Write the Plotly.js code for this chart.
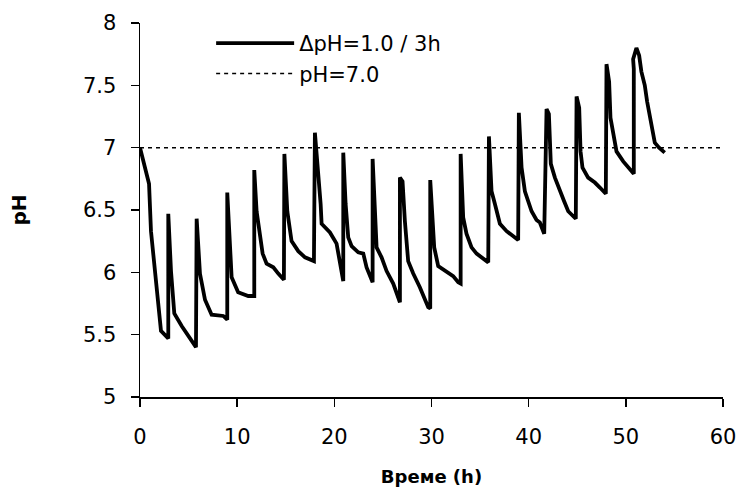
<!DOCTYPE html>
<html>
<head>
<meta charset="utf-8">
<script src="https://cdn.plot.ly/plotly-3.0.1.min.js"></script>
<style>html,body{margin:0;padding:0;background:#fff;}#chart{width:740px;height:495px;}</style>
</head>
<body>
<div id="chart"></div>
<script>
// Time (h)
const time = [0, 0.93, 1.13, 1.54, 1.95, 2.16, 2.91, 2.91,
  3.19, 3.53, 4.29, 4.97, 5.76, 5.83,
  6.17, 6.69, 7.37, 8.57, 8.98, 8.98,
  9.19, 9.43, 10.1, 11.14, 11.76, 11.76,
  12.0, 12.27, 12.62, 13.03, 13.72, 14.23, 14.81, 14.86,
  15.16, 15.6, 16.29, 16.98, 17.9, 18.0,
  18.35, 18.59, 18.69, 19.55, 20.23, 20.92, 20.92,
  21.16, 21.43, 21.78, 22.46, 22.98, 23.32, 23.94, 23.94,
  24.18, 24.35, 24.86, 25.38, 26.06, 26.75, 26.75,
  27.02, 27.26, 27.6, 28.12, 28.8, 29.66, 29.87, 29.87,
  30.07, 30.28, 30.69, 31.38, 32.23, 32.75, 33.0, 33.0,
  33.26, 33.6, 34.12, 34.64, 35.15, 35.84, 35.91,
  36.18, 36.52, 37.04, 37.73, 38.4, 38.92, 38.99,
  39.27, 39.61, 40.3, 40.81, 41.15, 41.6, 41.84,
  42.08, 42.28, 42.7, 43.2, 43.65, 44.07, 44.68, 44.85, 44.93,
  45.2, 45.34, 45.54, 46.12, 46.81, 47.33, 47.94, 48.01,
  48.28, 48.42, 48.7, 49.04, 49.73, 50.24, 50.82, 50.82, 50.75, 51.09,
  51.37, 51.6, 51.95, 52.19, 52.47, 52.74, 52.98, 53.42, 54.0];
// pH values
const pH = [7.0, 6.71, 6.33, 6.01, 5.75, 5.53, 5.47, 6.47,
  6.01, 5.67, 5.57, 5.49, 5.40, 6.43,
  5.99, 5.78, 5.66, 5.65, 5.62, 6.64,
  6.25, 5.96, 5.84, 5.81, 5.81, 6.82,
  6.49, 6.33, 6.15, 6.07, 6.04, 5.99, 5.94, 6.95,
  6.49, 6.25, 6.17, 6.12, 6.09, 7.12,
  6.81, 6.55, 6.39, 6.32, 6.23, 5.93, 6.96,
  6.55, 6.28, 6.21, 6.16, 6.15, 6.04, 5.92, 6.91,
  6.55, 6.20, 6.12, 6.01, 5.91, 5.76, 6.76,
  6.73, 6.41, 6.09, 5.99, 5.88, 5.72, 5.71, 6.74,
  6.41, 6.20, 6.05, 6.01, 5.97, 5.92, 5.91, 6.95,
  6.44, 6.31, 6.20, 6.15, 6.12, 6.08, 7.09,
  6.65, 6.55, 6.39, 6.33, 6.29, 6.26, 7.28,
  6.84, 6.65, 6.49, 6.42, 6.40, 6.31, 7.31,
  7.27, 6.87, 6.76, 6.65, 6.57, 6.49, 6.44, 6.43, 7.41,
  7.32, 6.97, 6.84, 6.76, 6.72, 6.68, 6.63, 7.67,
  7.53, 7.24, 7.11, 6.97, 6.89, 6.84, 6.79, 7.63, 7.71, 7.80,
  7.74, 7.61, 7.50, 7.37, 7.24, 7.11, 7.04, 7.00, 6.96];
// Reference line pH = 7.0
const refX = [0, 60];
const refY = [7.0, 7.0];
const seriesNames = ['\u0394pH=1.0 / 3h', 'pH=7.0'];

const font = 'DejaVu Sans, Arial, sans-serif';

const traces = [
  {x: time, y: pH, type: 'scatter', mode: 'lines', name: seriesNames[0],
   line: {color: '#000', width: 3.8}},
  {x: refX, y: refY, type: 'scatter', mode: 'lines', name: seriesNames[1],
   line: {color: '#000', width: 1.5, dash: '4px,4px'}}
];

const layout = {
  width: 740, height: 495,
  margin: {l: 140, r: 17, t: 23, b: 98},
  paper_bgcolor: '#fff', plot_bgcolor: '#fff',
  font: {family: font, color: '#000', size: 21},
  showlegend: true,
  legend: {x: 0.122, y: 1.0, xanchor: 'left', yanchor: 'top', bgcolor: 'rgba(0,0,0,0)',
           itemwidth: 78, font: {size: 21, family: font}},
  xaxis: {range: [0, 60], dtick: 10, tick0: 0, showgrid: false, zeroline: false,
          showline: true, linecolor: '#000', linewidth: 1.5,
          ticks: 'outside', ticklen: 8, tickwidth: 1.5, tickcolor: '#000',
          tickfont: {size: 21, family: font}, ticklabelstandoff: 12,
          title: {text: 'Време (h)', standoff: 22,
                  font: {size: 18, family: font, weight: 'bold'}}},
  yaxis: {range: [5, 8], dtick: 0.5, tick0: 5, showgrid: false, zeroline: false,
          showline: true, linecolor: '#000', linewidth: 1.5,
          ticks: 'outside', ticklen: 8, tickwidth: 1.5, tickcolor: '#000',
          tickfont: {size: 21, family: font}, ticklabelstandoff: 10,
          title: {text: 'pH', standoff: 51,
                  font: {size: 20, family: font, weight: 'bold'}}}
};

Plotly.newPlot('chart', traces, layout, {displayModeBar: false, staticPlot: true});
</script>
</body>
</html>
